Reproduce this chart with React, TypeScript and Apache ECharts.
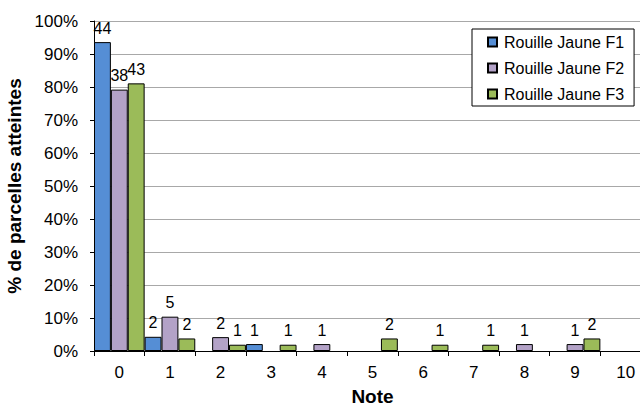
import React, { useEffect, useRef } from "react";
import * as echarts from "echarts";

const categories = ["0", "1", "2", "3", "4", "5", "6", "7", "8", "9", "10"];
const seriesNames = ["Rouille Jaune F1", "Rouille Jaune F2", "Rouille Jaune F3"];
const pctF1 = [93.6, 4.3, 0, 2.1, 0, 0, 0, 0, 0, 0, 0];
const pctF2 = [79.2, 10.4, 4.2, 0, 2.1, 0, 0, 0, 2.1, 2.1, 0];
const pctF3 = [81.1, 3.8, 1.9, 1.9, 0, 3.8, 1.9, 1.9, 0, 3.8, 0];
const countF1 = [44, 2, 0, 1, 0, 0, 0, 0, 0, 0, 0];
const countF2 = [38, 5, 2, 0, 1, 0, 0, 0, 1, 1, 0];
const countF3 = [43, 2, 1, 1, 0, 2, 1, 1, 0, 2, 0];
const colors = ["#558ED5", "#B3A2C7", "#9BBB59"];

const FONT = "Liberation Sans";

export default function App() {
  const ref = useRef<HTMLDivElement>(null);
  useEffect(() => {
    if (!ref.current) return;
    const chart = echarts.init(ref.current, undefined, { renderer: "svg" });
    const pcts = [pctF1, pctF2, pctF3];
    const counts = [countF1, countF2, countF3];
    chart.setOption({
      animation: false,
      textStyle: { fontFamily: FONT },
      grid: { left: 94, top: 21, width: 557, height: 330, outerBoundsMode: "none", containLabel: false },
      legend: {
        orient: "vertical",
        left: 472,
        top: 29,
        backgroundColor: "#fff",
        borderColor: "#000",
        borderWidth: 1,
        borderRadius: 0,
        padding: [5, 10, 4, 15],
        itemWidth: 9,
        itemHeight: 9,
        itemGap: 10,
        icon: "rect",
        textStyle: { fontFamily: FONT, fontSize: 16, color: "#000", padding: [0, 0, 0, 2] },
        data: seriesNames,
      },
      xAxis: {
        type: "category",
        data: categories,
        name: "Note",
        nameLocation: "middle",
        nameGap: 38,
        nameTextStyle: { fontFamily: FONT, fontSize: 19, lineHeight: 14, fontWeight: "bold", color: "#000" },
        axisLine: { lineStyle: { color: "#000", width: 1 } },
        axisTick: { show: true, length: 5, lineStyle: { color: "#000" } },
        axisLabel: { fontFamily: FONT, fontSize: 17, color: "#000", margin: 13, interval: 0 },
        splitLine: { show: false },
      },
      yAxis: {
        type: "value",
        min: 0,
        max: 100,
        interval: 10,
        name: "% de parcelles atteintes",
        nameLocation: "middle",
        nameGap: 62,
        nameTextStyle: { fontFamily: FONT, fontSize: 19, fontWeight: "bold", color: "#000" },
        axisLine: { show: true, lineStyle: { color: "#000", width: 1 } },
        axisTick: { show: true, length: 4, lineStyle: { color: "#000" } },
        axisLabel: { fontFamily: FONT, fontSize: 17, color: "#000", margin: 16, formatter: "{value}%" },
        splitLine: { show: true, lineStyle: { color: "#A8A8A8", width: 1 } },
      },
      series: seriesNames.map((name, i) => ({
        name,
        type: "bar",
        barGap: "0%",
        barCategoryGap: "0%",
        data: pcts[i].map((v) => (v > 0 ? v : null)),
        itemStyle: { color: colors[i], borderColor: "#000", borderWidth: 1 },
        label: {
          show: true,
          position: "top",
          distance: 6,
          fontFamily: FONT,
          fontSize: 16,
          color: "#000",
          formatter: (p: any) => String(counts[i][p.dataIndex]),
        },
      })),
    });
    return () => chart.dispose();
  }, []);
  return (
    <div
      ref={ref}
      style={{ position: "fixed", left: 0, top: 0, width: 640, height: 405, background: "#fff" }}
    />
  );
}
